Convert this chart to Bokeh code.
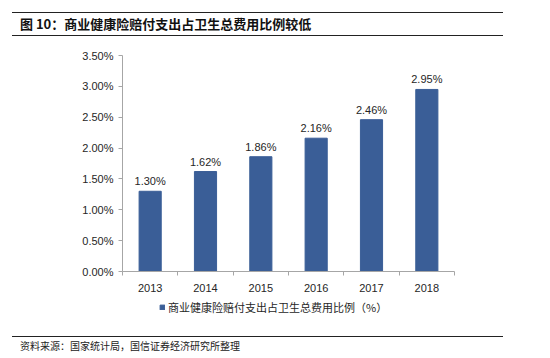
from bokeh.plotting import figure
from bokeh.models import Range1d, FixedTicker, NumeralTickFormatter, Legend, LegendItem, ColumnDataSource, LabelSet, Div
from bokeh.layouts import column
from bokeh.embed import file_html
from bokeh.resources import INLINE
from bokeh.core.properties import value

years = ["2013", "2014", "2015", "2016", "2017", "2018"]
ratios = [0.0130, 0.0162, 0.0186, 0.0216, 0.0246, 0.0295]
bar_labels = ["1.30%", "1.62%", "1.86%", "2.16%", "2.46%", "2.95%"]
y_ticks = [0.0, 0.005, 0.010, 0.015, 0.020, 0.025, 0.030, 0.035]
title_text = "图 10：商业健康险赔付支出占卫生总费用比例较低"
legend_text = "商业健康险赔付支出占卫生总费用比例（%）"
source_text = "资料来源：国家统计局，国信证券经济研究所整理"

BAR = "#3A5E97"
AX = "#A6A6A6"
TXT = "#262626"
LAT = "Liberation Sans"
CJK = "Noto Sans CJK SC"

W = 550
BL, BR = 122, 96

# ---- header ----
header = Div(text=title_text, width=491, height=24, margin=(12, 0, 0, 12),
             styles={"border-top": "1.3px solid #222", "border-bottom": "1.3px solid #222",
                     "box-sizing": "border-box", "font-family": CJK, "font-size": "13px",
                     "font-weight": "bold", "color": "#111", "line-height": "21px",
                     "padding-left": "8px", "white-space": "nowrap"})

# ---- main chart ----
xs = [i + 0.5 for i in range(len(years))]
src = ColumnDataSource(dict(x=xs, top=ratios, lab=bar_labels))

p = figure(width=W, height=263, x_range=Range1d(0, len(years)), y_range=Range1d(0, 0.035),
           output_backend="svg", toolbar_location=None,
           min_border_left=BL, min_border_right=BR, min_border_top=19, min_border_bottom=28)
p.grid.visible = False
p.outline_line_color = None
r = p.vbar(x="x", top="top", width=0.4, source=src, fill_color=BAR, line_color=BAR)

p.add_layout(LabelSet(x="x", y="top", text="lab", source=src, y_offset=4, text_align="center",
                      text_baseline="bottom", text_font=value(LAT), text_font_size="11px",
                      text_color=TXT))

p.yaxis.ticker = FixedTicker(ticks=y_ticks)
p.yaxis.formatter = NumeralTickFormatter(format="0.00%")
p.yaxis.axis_line_color = AX
p.yaxis.major_tick_line_color = AX
p.yaxis.major_tick_out = 4
p.yaxis.major_tick_in = 0
p.yaxis.minor_tick_line_color = None
p.yaxis.major_label_standoff = 5
p.yaxis.major_label_text_font = LAT
p.yaxis.major_label_text_font_size = "11px"
p.yaxis.major_label_text_color = TXT

p.xaxis.ticker = FixedTicker(ticks=xs, minor_ticks=list(range(len(years) + 1)))
p.xaxis.major_label_overrides = {x: y for x, y in zip(xs, years)}
p.xaxis.axis_line_color = AX
p.xaxis.major_tick_line_color = None
p.xaxis.minor_tick_line_color = AX
p.xaxis.minor_tick_out = 4
p.xaxis.minor_tick_in = 0
p.xaxis.major_label_standoff = 6
p.xaxis.major_label_text_font = LAT
p.xaxis.major_label_text_font_size = "11px"
p.xaxis.major_label_text_color = TXT

# ---- legend strip (same frame as the chart; its bars lie outside its y range) ----
lg = figure(width=W, height=16, x_range=p.x_range, y_range=Range1d(1, 2),
            output_backend="svg", toolbar_location=None,
            min_border_left=BL, min_border_right=BR, min_border_top=0, min_border_bottom=0)
lg.axis.visible = False
lg.grid.visible = False
lg.outline_line_color = None
lr = lg.vbar(x="x", top="top", width=0.4, source=src, fill_color=BAR, line_color=BAR)
leg = Legend(items=[LegendItem(label=legend_text, renderers=[lr])], location=(37, 0),
             orientation="horizontal", border_line_color=None, background_fill_alpha=0,
             glyph_width=6, glyph_height=6, label_standoff=3, padding=0, margin=0,
             label_height=16, label_text_font=CJK, label_text_font_size="11px",
             label_text_color=TXT)
lg.add_layout(leg)

# ---- footer ----
footer = Div(text=source_text, width=491, height=20, margin=(21, 0, 0, 12),
             styles={"border-top": "1.3px solid #222", "box-sizing": "border-box",
                     "font-family": CJK, "font-size": "10px", "color": "#222",
                     "line-height": "18px", "padding-left": "8px", "white-space": "nowrap"})

layout = column(header, p, lg, footer, spacing=0)
open("out.html", "w").write(file_html(layout, INLINE))
